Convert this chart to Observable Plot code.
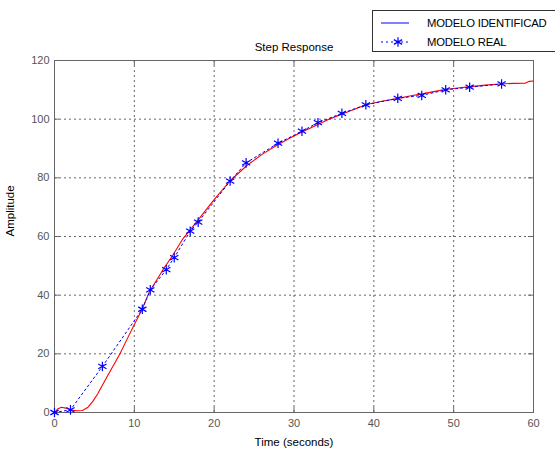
<!DOCTYPE html>
<html>
<head>
<meta charset="utf-8">
<script src="https://cdn.jsdelivr.net/npm/d3@7"></script>
<script src="https://cdn.jsdelivr.net/npm/@observablehq/plot@0.6"></script>
<style>
  html, body { margin: 0; padding: 0; background: white; overflow: hidden; width: 555px; height: 452px; }
  #wrap { position: relative; width: 555px; height: 452px; }
  #legend { position: absolute; left: 372px; top: 10px; width: 200px; height: 40px; border: 1.5px solid #333; background: white; font-family: "Liberation Sans", Arial, sans-serif; font-size: 11.3px; color: #000; letter-spacing: -0.2px; }
  #legend .row { position: absolute; left: 0; height: 16px; display: flex; align-items: center; }
  #legend svg { display: block; }
</style>
</head>
<body>
<div id="wrap"></div>
<script>
// Data
const xTicks = [0, 10, 20, 30, 40, 50, 60];
const yTicks = [0, 20, 40, 60, 80, 100, 120];

// "MODELO REAL" samples (blue stars)
const realT = [0, 2, 6, 11, 12, 14, 15, 17, 18, 22, 24, 28, 31, 33, 36, 39, 43, 46, 49, 52, 56];
const realY = [0, 0.9, 15.7, 35.2, 41.8, 48.7, 52.8, 61.8, 64.9, 78.9, 85.1, 91.8, 95.9, 98.8, 102, 104.9, 107.1, 108.1, 110, 110.9, 112];

// Identified model response (red curve)
const modelT = [0, 0.4, 0.85, 1.4, 2.1, 2.8, 3.5, 4.2, 4.8, 5.4, 6.0, 6.7, 7.5, 8.2, 9.0, 10.0, 10.9, 11.9, 12.9, 13.8, 14.8, 16.1, 17.8, 19.4, 20.1, 22.0, 24.1, 26.0, 27.8, 29.5, 31.0, 33.0, 34.5, 35.8, 37.5, 39.1, 41.0, 42.9, 44.5, 46.2, 47.5, 48.9, 50.5, 52.1, 54.0, 55.8, 57.5, 59.0, 59.5, 60];
const modelY = [0, 1.2, 1.8, 1.5, 0.8, 0.6, 0.7, 1.8, 3.8, 6.3, 9.3, 12.8, 16.6, 20.0, 24.5, 30.0, 34.8, 41.2, 45.6, 49.6, 53.5, 59.3, 65.0, 70.5, 72.9, 79.0, 84.2, 88.0, 91.0, 93.6, 95.6, 98.2, 100.1, 101.5, 103.3, 105.0, 106.1, 107.0, 107.9, 108.7, 109.4, 110.1, 110.6, 111.1, 111.6, 112.0, 112.2, 112.3, 112.9, 113.0];

const real = realT.map((t, i) => ({t, y: realY[i]}));
const model = modelT.map((t, i) => ({t, y: modelY[i]}));

const W = 555, H = 452, mL = 54, mR = 22, mT = 60, mB = 40;
const pw = W - mL - mR, ph = H - mT - mB;
const axisGray = "#666";
const labelGray = "#555";

const chart = Plot.plot({
  width: W,
  height: H,
  marginLeft: mL,
  marginRight: mR,
  marginTop: mT,
  marginBottom: mB,
  style: { fontFamily: "Liberation Sans, Arial, sans-serif", fontSize: "11px", background: "white", overflow: "visible" },
  x: { domain: [0, 60] },
  y: { domain: [0, 120] },
  marks: [
    Plot.gridX(xTicks.slice(1, -1), { stroke: "#555", strokeOpacity: 0.9, strokeDasharray: "2,3" }),
    Plot.gridY(yTicks.slice(1, -1), { stroke: "#555", strokeOpacity: 0.9, strokeDasharray: "2,3" }),
    Plot.frame({ stroke: axisGray }),
    // inward ticks
    Plot.tickX(xTicks, { x: d => d, insetTop: ph - 5, stroke: axisGray }),
    Plot.tickX(xTicks, { x: d => d, insetBottom: ph - 5, stroke: axisGray }),
    Plot.tickY(yTicks, { y: d => d, insetRight: pw - 5, stroke: axisGray }),
    Plot.tickY(yTicks, { y: d => d, insetLeft: pw - 5, stroke: axisGray }),
    Plot.axisX(xTicks, { tickSize: 0, tickPadding: 7, label: null, fill: labelGray }),
    Plot.axisY(yTicks, { tickSize: 0, tickPadding: 5, label: null, fill: labelGray }),
    Plot.line(model, { x: "t", y: "y", stroke: "#ff0000", strokeWidth: 1.1 }),
    Plot.line(real, { x: "t", y: "y", stroke: "#0000ff", strokeWidth: 1, strokeDasharray: "2,3" }),
    Plot.dot(real, { x: "t", y: "y", symbol: "asterisk", r: 4.5, stroke: "#0000ff", strokeWidth: 1.2 }),
    Plot.text(["Step Response"], { frameAnchor: "top", dy: -10, lineAnchor: "bottom", fill: "#000", fontSize: 11.5 }),
    Plot.text(["Time (seconds)"], { frameAnchor: "bottom", dy: 30, lineAnchor: "middle", fill: "#000", fontSize: 11.5 }),
    Plot.text(["Amplitude"], { frameAnchor: "left", dx: -44, rotate: -90, lineAnchor: "middle", fill: "#000", fontSize: 11.5 })
  ]
});

const wrap = document.getElementById("wrap");
wrap.appendChild(chart);

// Legend
const legendItems = [
  { label: "MODELO IDENTIFICAD", dash: null, marker: false },
  { label: "MODELO REAL", dash: "2,3", marker: true }
];
const legend = document.createElement("div");
legend.id = "legend";
legendItems.forEach((it, i) => {
  const row = document.createElement("div");
  row.className = "row";
  row.style.top = (4 + i * 19) + "px";
  const svg = d3.create("svg").attr("width", 54).attr("height", 16);
  svg.append("line").attr("x1", 8).attr("x2", 36).attr("y1", 8).attr("y2", 8)
    .attr("stroke", "#0000ff").attr("stroke-width", 1)
    .attr("stroke-dasharray", it.dash);
  if (it.marker) {
    svg.append("path").attr("transform", "translate(25,8)")
      .attr("d", d3.symbol(d3.symbolAsterisk, 64)())
      .attr("stroke", "#0000ff").attr("stroke-width", 1.2).attr("fill", "none");
  }
  row.appendChild(svg.node());
  const span = document.createElement("span");
  span.textContent = it.label;
  span.style.marginLeft = "0px";
  row.appendChild(span);
  legend.appendChild(row);
});
wrap.appendChild(legend);
</script>
</body>
</html>
